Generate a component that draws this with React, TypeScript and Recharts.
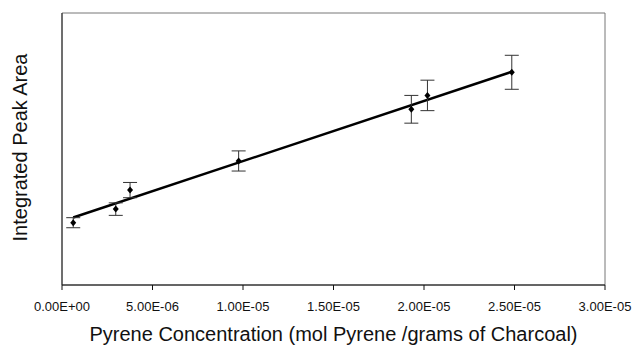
import {
  ComposedChart,
  Scatter,
  Line,
  XAxis,
  YAxis,
  ErrorBar,
  ReferenceArea,
  Label,
} from 'recharts';

// pyrene concentration (mol pyrene / g charcoal)
const concentrations = [6.2e-7, 2.97e-6, 3.76e-6, 9.76e-6, 1.93e-5, 2.019e-5, 2.485e-5];
// integrated peak area (arbitrary units)
const peakAreas = [22.9, 27.9, 34.9, 45.6, 64.6, 69.7, 78.2];
const peakErrors = [1.85, 2.3, 2.8, 3.7, 5.1, 5.6, 6.25];

// linear trendline end points
const trendX = [6.2e-7, 2.485e-5];
const trendY = [24.8, 78.4];

const xTicks = [0, 5e-6, 1e-5, 1.5e-5, 2e-5, 2.5e-5, 3e-5];

const FONT = '"Liberation Sans", Arial, sans-serif';

const points = concentrations.map((x, i) => ({ x, y: peakAreas[i], err: peakErrors[i] }));
const trend = trendX.map((x, i) => ({ x, y: trendY[i] }));

function formatSci(v: number): string {
  if (v === 0) return '0.00E+00';
  const exp = Math.floor(Math.log10(Math.abs(v)) + 1e-9);
  const mant = v / Math.pow(10, exp);
  const sign = exp < 0 ? '-' : '+';
  return `${mant.toFixed(2)}E${sign}${String(Math.abs(exp)).padStart(2, '0')}`;
}

function Diamond(props: any) {
  const { cx, cy } = props;
  if (cx == null || cy == null) return <g />;
  return (
    <polygon
      points={`${cx},${cy - 3.5} ${cx + 3},${cy} ${cx},${cy + 3.5} ${cx - 3},${cy}`}
      fill="#000"
    />
  );
}

function XTick({ x, y, payload }: any) {
  return (
    <text
      x={x}
      y={y + 9.5}
      textAnchor="middle"
      fontSize={13}
      fontFamily={FONT}
      fill="#111"
    >
      {formatSci(payload.value)}
    </text>
  );
}

export default function App() {
  return (
    <div style={{ position: 'absolute', left: 0, top: 0, background: '#fff' }}>
      <ComposedChart
        width={637}
        height={345}
        margin={{ top: 13, right: 32, left: 61, bottom: 0 }}
      >
        <ReferenceArea
          x1={0}
          x2={3e-5}
          y1={0}
          y2={100}
          fill="none"
          stroke="#777"
          strokeWidth={1}
        />
        <XAxis
          type="number"
          dataKey="x"
          domain={[0, 3e-5]}
          ticks={xTicks}
          height={60}
          tickSize={5}
          tickMargin={11}
          stroke="#111"
          tick={<XTick />}
          allowDataOverflow
        >
          <Label
            content={({ viewBox }: any) => (
              <text
                x={viewBox.x + viewBox.width / 2}
                y={viewBox.y + 56}
                textAnchor="middle"
                fontSize={20}
                fontFamily={FONT}
                fill="#111"
              >
                Pyrene Concentration (mol Pyrene /grams of Charcoal)
              </text>
            )}
          />
        </XAxis>
        <YAxis
          type="number"
          dataKey="y"
          domain={[0, 100]}
          width={1}
          tick={false}
          tickLine={false}
          stroke="#222"
        >
          <Label
            content={() => (
              <text
                x={27}
                y={147.5}
                transform="rotate(-90, 27, 147.5)"
                textAnchor="middle"
                fontSize={20}
                fontFamily={FONT}
                fill="#111"
              >
                Integrated Peak Area
              </text>
            )}
          />
        </YAxis>
        <Line
          data={trend}
          dataKey="y"
          type="linear"
          stroke="#000"
          strokeWidth={2.5}
          dot={false}
          activeDot={false}
          isAnimationActive={false}
        />
        <Scatter data={points} dataKey="y" shape={Diamond} isAnimationActive={false}>
          <ErrorBar dataKey="err" direction="y" width={7} stroke="#333" strokeWidth={1} />
        </Scatter>
      </ComposedChart>
    </div>
  );
}
